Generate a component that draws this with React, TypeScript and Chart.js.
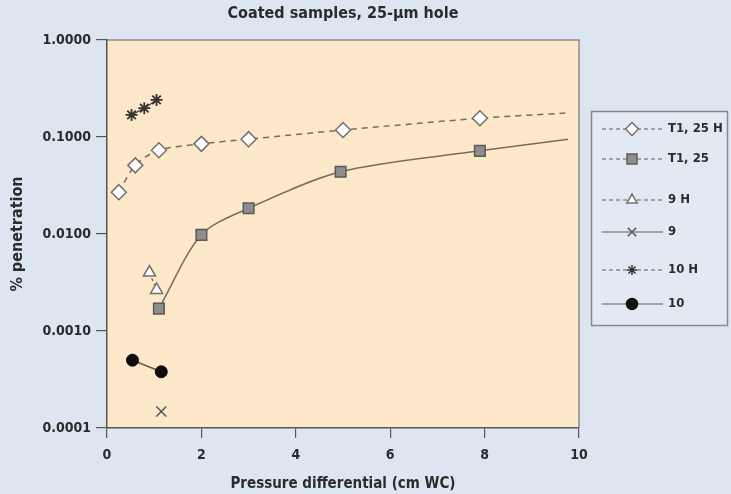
import React, { useEffect, useRef } from 'react';
import { Chart, registerables } from 'chart.js';
import { drawPoint } from 'chart.js/helpers';

Chart.register(...registerables);

const titleText = 'Coated samples, 25-µm hole';
const xAxisTitle = 'Pressure differential (cm WC)';
const yAxisTitle = '% penetration';
const xTicks = [0, 2, 4, 6, 8, 10];
const yTicks = [0.0001, 0.001, 0.01, 0.1, 1];

const seriesNames = ['T1, 25 H', 'T1, 25', '9 H', '9', '10 H', '10'];

// T1, 25 H (open diamonds, dashed fit)
const t125hX = [0.25, 0.6, 1.1, 2.0, 3.0, 5.0, 7.9];
const t125hY = [0.027, 0.051, 0.073, 0.085, 0.095, 0.118, 0.156];
const t125hFitEnd = [9.75, 0.177];

// T1, 25 (grey squares, solid fit)
const t125X = [1.1, 2.0, 3.0, 4.95, 7.9];
const t125Y = [0.0017, 0.0098, 0.0184, 0.0439, 0.072];
const t125FitEnd = [9.77, 0.095];

// 9 H (open triangles)
const s9hX = [0.9, 1.05];
const s9hY = [0.0040, 0.00265];

// 9 (cross)
const s9X = [1.15];
const s9Y = [0.000148];

// 10 H (stars)
const s10hX = [0.52, 0.79, 1.05];
const s10hY = [0.169, 0.198, 0.241];

// 10 (filled circles)
const s10X = [0.54, 1.15];
const s10Y = [0.0005, 0.00038];

const FONT = "'DejaVu Sans Condensed', 'DejaVu Sans', sans-serif";
const TEXT = '#2b2b2b';
const LINE = '#7a6c5d';

const pts = (xs: number[], ys: number[]) => xs.map((x, i) => ({ x, y: ys[i] }));

const legendStyles = [
  { dash: [4, 3], style: 'rectRot', fill: '#ffffff', stroke: '#6f6f6f', r: 6.5, line: '#8a8a8a' },
  { dash: [4, 3], style: 'rect', fill: '#8e8e8e', stroke: '#5a5a5a', r: 7, line: '#8a8a8a' },
  { dash: [4, 3], style: 'triangle', fill: '#ffffff', stroke: '#6f6f6f', r: 6, line: '#8a8a8a' },
  { dash: [], style: 'crossRot', fill: '#555555', stroke: '#555555', r: 6, line: '#8a8a8a' },
  { dash: [4, 3], style: 'star', fill: '#333333', stroke: '#333333', r: 5, line: '#8a8a8a' },
  { dash: [], style: 'circle', fill: '#111111', stroke: '#111111', r: 5.5, line: '#8a8a8a' },
];
const legendRowsY = [129, 159, 200, 232, 270, 304];

const bgPlugin = {
  id: 'bgPlugin',
  beforeDraw(chart: any) {
    const { ctx, chartArea, width, height } = chart;
    const { left, top, right, bottom } = chartArea;
    ctx.save();
    ctx.fillStyle = '#dde6f0';
    ctx.fillRect(0, 0, width, height);
    ctx.fillStyle = '#fde8ca';
    ctx.fillRect(left, top, right - left, bottom - top);
    ctx.strokeStyle = '#8a8a8a';
    ctx.lineWidth = 1.5;
    ctx.beginPath();
    ctx.moveTo(left, top);
    ctx.lineTo(right, top);
    ctx.lineTo(right, bottom);
    ctx.stroke();
    ctx.restore();
  },
};

const legendPlugin = {
  id: 'customLegend',
  afterDraw(chart: any) {
    const { ctx } = chart;
    ctx.save();
    ctx.fillStyle = '#e2e9f2';
    ctx.fillRect(591, 111, 137, 215);
    ctx.strokeStyle = '#8a8a8a';
    ctx.lineWidth = 1.5;
    ctx.strokeRect(591.5, 111.5, 136, 214);
    seriesNames.forEach((name, i) => {
      const s = legendStyles[i];
      const y = legendRowsY[i];
      ctx.save();
      ctx.strokeStyle = s.line;
      ctx.lineWidth = 1.3;
      ctx.setLineDash(s.dash);
      ctx.beginPath();
      ctx.moveTo(602, y);
      ctx.lineTo(663, y);
      ctx.stroke();
      ctx.restore();
      ctx.save();
      ctx.fillStyle = s.fill;
      ctx.strokeStyle = s.stroke;
      ctx.lineWidth = 1.5;
      drawPoint(ctx, { pointStyle: s.style, radius: s.r, borderWidth: 1.5, rotation: 0 } as any, 632, y);
      ctx.restore();
      ctx.fillStyle = TEXT;
      ctx.font = `bold 13px ${FONT}`;
      ctx.textBaseline = 'middle';
      ctx.textAlign = 'left';
      ctx.fillText(name, 668, y);
    });
    ctx.restore();
  },
};

export default function App() {
  const ref = useRef<HTMLCanvasElement | null>(null);
  useEffect(() => {
    document.body.style.margin = '0';
    const canvas = ref.current;
    if (!canvas) return;
    const tickFont = { family: FONT, size: 14, weight: 'bold' as const };
    const chart = new Chart(canvas, {
      type: 'line',
      data: {
        datasets: [
          {
            label: seriesNames[0],
            data: [...pts(t125hX, t125hY), { x: t125hFitEnd[0], y: t125hFitEnd[1] }],
            borderColor: LINE,
            borderWidth: 1.5,
            borderDash: [6, 5],
            tension: 0.3,
            pointStyle: 'rectRot',
            pointRadius: [...t125hX.map(() => 7.5), 0],
            pointBackgroundColor: '#ffffff',
            pointBorderColor: '#707070',
            pointBorderWidth: 1.5,
          },
          {
            label: seriesNames[1],
            data: [...pts(t125X, t125Y), { x: t125FitEnd[0], y: t125FitEnd[1] }],
            borderColor: LINE,
            borderWidth: 1.5,
            tension: 0.3,
            pointStyle: 'rect',
            pointRadius: [...t125X.map(() => 7.5), 0],
            pointBackgroundColor: '#8e8e8e',
            pointBorderColor: '#5a5a5a',
            pointBorderWidth: 1.5,
          },
          {
            label: seriesNames[2],
            data: pts(s9hX, s9hY),
            borderColor: LINE,
            borderWidth: 1.3,
            borderDash: [3, 3],
            pointStyle: 'triangle',
            pointRadius: 7,
            pointBackgroundColor: '#ffffff',
            pointBorderColor: '#707070',
            pointBorderWidth: 1.5,
          },
          {
            label: seriesNames[3],
            data: pts(s9X, s9Y),
            showLine: false,
            pointStyle: 'crossRot',
            pointRadius: 7,
            pointBorderColor: '#555555',
            pointBackgroundColor: '#555555',
            pointBorderWidth: 1.5,
          },
          {
            label: seriesNames[4],
            data: pts(s10hX, s10hY),
            borderColor: '#444444',
            borderWidth: 1.3,
            pointStyle: 'star',
            pointRadius: 6,
            pointBorderColor: '#333333',
            pointBackgroundColor: '#333333',
            pointBorderWidth: 1.8,
          },
          {
            label: seriesNames[5],
            data: pts(s10X, s10Y),
            borderColor: '#6b5a4a',
            borderWidth: 1.5,
            pointStyle: 'circle',
            pointRadius: 6,
            pointBackgroundColor: '#0d0d0d',
            pointBorderColor: '#0d0d0d',
            pointBorderWidth: 1,
          },
        ],
      },
      options: {
        animation: false,
        responsive: false,
        layout: { padding: { left: 0, right: 152, top: 0, bottom: 0 } },
        plugins: {
          legend: { display: false },
          tooltip: { enabled: false },
          title: {
            display: true,
            text: titleText,
            fullSize: false,
            color: TEXT,
            font: { family: FONT, size: 16, weight: 'bold' },
            padding: { top: 4, bottom: 16.8 },
          },
        },
        scales: {
          x: {
            type: 'linear',
            min: 0,
            max: 10,
            afterFit(s: any) { s.height = 66; },
            afterBuildTicks(s: any) { s.ticks = xTicks.map((v) => ({ value: v })); },
            grid: { drawOnChartArea: false, drawTicks: true, tickLength: 10, color: '#555555', lineWidth: 1.2 },
            border: { color: '#555555', width: 1.5 },
            ticks: { padding: 9, color: TEXT, font: tickFont },
            title: { display: true, text: xAxisTitle, color: TEXT, font: { family: FONT, size: 15, weight: 'bold' }, padding: { top: 0, bottom: 1 } },
          },
          y: {
            type: 'logarithmic',
            min: 0.0001,
            max: 1,
            afterFit(s: any) { s.width = 107; },
            afterBuildTicks(s: any) { s.ticks = yTicks.map((v) => ({ value: v })); },
            grid: { drawOnChartArea: false, drawTicks: true, tickLength: 11, color: '#555555', lineWidth: 1.2 },
            border: { color: '#555555', width: 1.5 },
            ticks: { padding: 5, color: TEXT, font: tickFont, callback: (v: any) => Number(v).toFixed(4) },
            title: { display: true, text: yAxisTitle, color: TEXT, font: { family: FONT, size: 16, weight: 'bold' }, padding: { top: 8, bottom: 0 } },
          },
        },
      },
      plugins: [bgPlugin, legendPlugin],
    } as any);
    return () => chart.destroy();
  }, []);
  return (
    <div style={{ width: 731, height: 494 }}>
      <canvas ref={ref} width={731} height={494} style={{ display: 'block' }} />
    </div>
  );
}
